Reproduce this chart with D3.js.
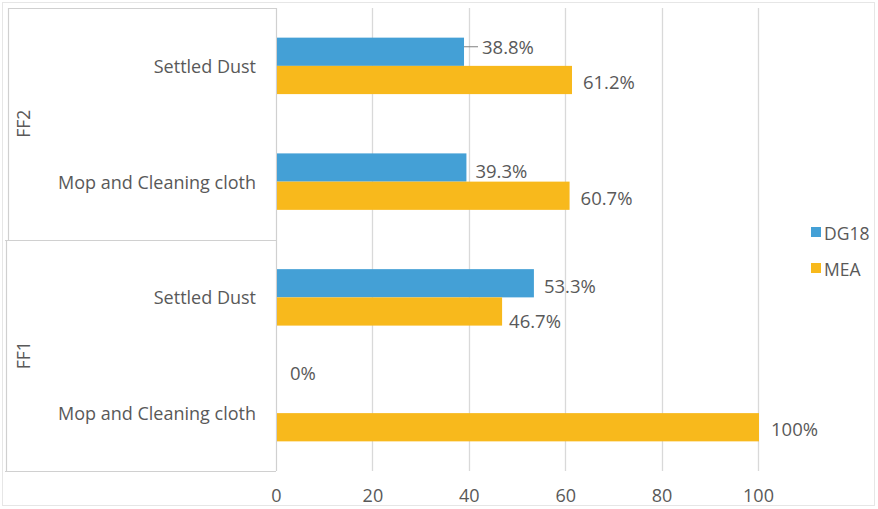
<!DOCTYPE html>
<html><head><meta charset="utf-8">
<script src="https://cdn.jsdelivr.net/npm/d3@7"></script>
<style>
html,body{margin:0;padding:0;background:#fff;}
text{font-family:"Open Sans","Liberation Sans",sans-serif;fill:#595959;}
</style></head>
<body>
<svg id="chart" width="878" height="509"></svg>
<script>
// ---- data ----
const groups = ["FF2", "FF1"];
const categories = ["Settled Dust", "Mop and Cleaning cloth"];
const rowKeys = ["FF2|Settled Dust", "FF2|Mop and Cleaning cloth", "FF1|Settled Dust", "FF1|Mop and Cleaning cloth"];
const seriesNames = ["DG18", "MEA"];
const dg18 = [38.8, 39.3, 53.3, 0];
const mea = [61.2, 60.7, 46.7, 100];
const dg18Labels = ["38.8%", "39.3%", "53.3%", "0%"];
const meaLabels = ["61.2%", "60.7%", "46.7%", "100%"];
const xTicks = [0, 20, 40, 60, 80, 100];
const colors = ["#44a0d6", "#f8b91c"];

// label nudges (dx, dy) in px, for placement as in the original
const dg18Nudge = [[19, -5], [10, 3], [11, 2], [14, -27]];
const meaNudge = [[12, 2], [12, 2], [8, 9], [13, 1]];

const svg = d3.select("#chart");
const pL = 276, pR = 758, pT = 8, pB = 471;
const fs = 17.5;

const x = d3.scaleLinear().domain([0, 100]).range([pL, pR]);
const y = d3.scaleBand().domain(rowKeys).range([pT, pB]);
const ys = d3.scaleBand().domain(seriesNames).range([0, y.bandwidth()]).paddingOuter(1.05).paddingInner(0);

// outer frame
svg.append("rect").attr("x", 2.5).attr("y", 2.5).attr("width", 872).attr("height", 503)
  .attr("fill", "none").attr("stroke", "#e6e6e6").attr("stroke-width", 1);

// gridlines
svg.append("g").selectAll("line").data(xTicks.slice(1)).join("line")
  .attr("x1", d => Math.round(x(d)) + 0.5).attr("x2", d => Math.round(x(d)) + 0.5)
  .attr("y1", pT).attr("y2", pB)
  .attr("stroke", "#d9d9d9").attr("stroke-width", 1.3);

// left category frame
const frame = svg.append("g").attr("stroke", "#d0d0d0").attr("stroke-width", 1.2).attr("fill", "none");
frame.append("line").attr("x1", 8).attr("x2", pL).attr("y1", pT + 0.5).attr("y2", pT + 0.5);
frame.append("line").attr("x1", 5).attr("x2", pL).attr("y1", 240.5).attr("y2", 240.5);
frame.append("line").attr("x1", 5).attr("x2", pL).attr("y1", pB + 0.5).attr("y2", pB + 0.5);
frame.append("line").attr("x1", 8.5).attr("x2", 8.5).attr("y1", pT).attr("y2", 240);
frame.append("line").attr("x1", 6.5).attr("x2", 6.5).attr("y1", 240).attr("y2", pB);
frame.append("line").attr("x1", pL + 0.5).attr("x2", pL + 0.5).attr("y1", pT).attr("y2", pB);

// bars
const seriesData = [dg18, mea];
const seriesLabels = [dg18Labels, meaLabels];
const nudges = [dg18Nudge, meaNudge];
seriesData.forEach((vals, si) => {
  svg.append("g").selectAll("rect").data(vals).join("rect")
    .attr("x", x(0) + 1)
    .attr("y", (d, i) => y(rowKeys[i]) + ys(seriesNames[si]))
    .attr("width", d => Math.max(0, x(d) - x(0)))
    .attr("height", ys.bandwidth())
    .attr("fill", colors[si]);
  svg.append("g").selectAll("text").data(vals).join("text")
    .attr("x", (d, i) => x(d) + nudges[si][i][0])
    .attr("y", (d, i) => y(rowKeys[i]) + ys(seriesNames[si]) + ys.bandwidth() / 2 + nudges[si][i][1])
    .attr("dominant-baseline", "central")
    .attr("font-size", fs + 1)
    .text((d, i) => seriesLabels[si][i]);
});
// leader line for first DG18 label
svg.append("line")
  .attr("x1", x(dg18[0]) + 1).attr("x2", x(dg18[0]) + 15)
  .attr("y1", y(rowKeys[0]) + ys("DG18") + ys.bandwidth() / 2 - 5)
  .attr("y2", y(rowKeys[0]) + ys("DG18") + ys.bandwidth() / 2 - 5)
  .attr("stroke", "#808080").attr("stroke-width", 1);

// category labels
svg.append("g").selectAll("text").data(rowKeys).join("text")
  .attr("x", 256).attr("y", d => y(d) + y.bandwidth() / 2)
  .attr("text-anchor", "end").attr("dominant-baseline", "central")
  .attr("font-size", fs + 0.5)
  .text(d => d.split("|")[1]);

// group labels
groups.forEach((g, gi) => {
  const y0 = y(rowKeys[gi * 2]), y1 = y(rowKeys[gi * 2 + 1]) + y.bandwidth();
  const cy = (y0 + y1) / 2;
  svg.append("text")
    .attr("transform", `translate(23,${cy}) rotate(-90)`)
    .attr("text-anchor", "middle").attr("dominant-baseline", "central")
    .attr("font-size", fs).text(g);
});

// x axis tick labels
const xAxis = d3.axisBottom(x).tickValues(xTicks).tickSize(0).tickPadding(0).tickFormat(d3.format("d"));
const ax = svg.append("g").attr("transform", `translate(0,${pB + 18})`).call(xAxis);
ax.select(".domain").remove();
ax.selectAll("text").attr("font-size", fs + 0.5).attr("fill", "#595959")
  .style("font-family", '"Open Sans","Liberation Sans",sans-serif');

// legend
const lg = svg.append("g").attr("transform", "translate(811,232)");
seriesNames.forEach((s, i) => {
  lg.append("rect").attr("x", 0).attr("y", i * 36 - 5).attr("width", 10).attr("height", 10).attr("fill", colors[i]);
  lg.append("text").attr("x", 13).attr("y", i * 36 + 1).attr("dominant-baseline", "central")
    .attr("font-size", fs).text(s);
});
</script>
</body></html>
